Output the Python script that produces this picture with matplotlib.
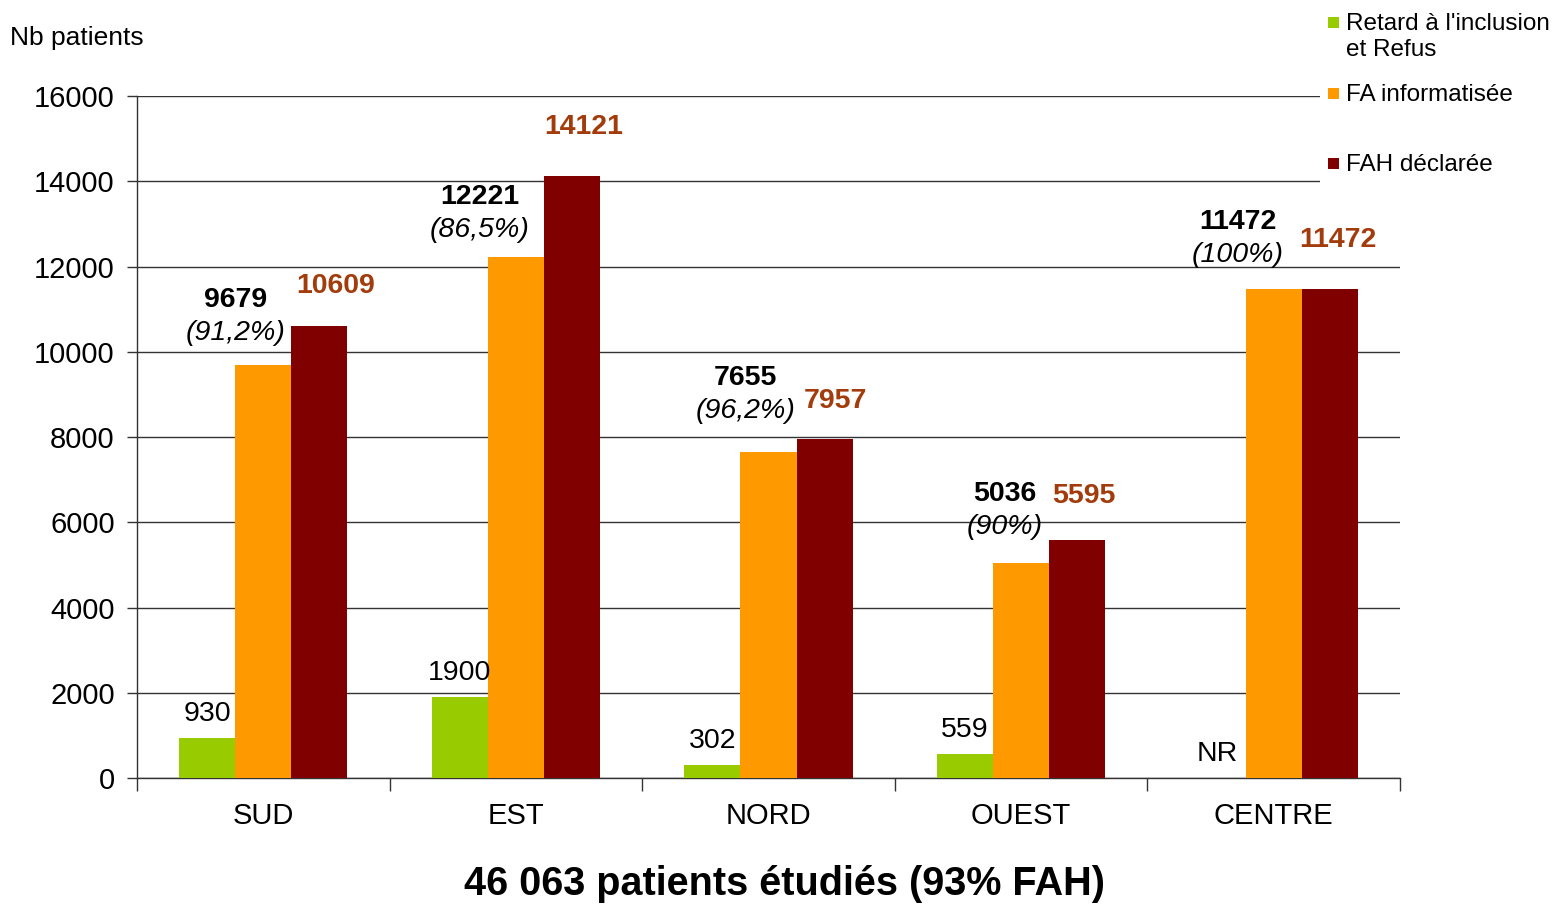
import numpy as np
import matplotlib.pyplot as plt
from matplotlib.patches import Rectangle

plt.rcParams['font.family'] = ['Liberation Sans', 'DejaVu Sans']

regions = ["SUD", "EST", "NORD", "OUEST", "CENTRE"]
retard = [930, 1900, 302, 559, np.nan]
retard_txt = ["930", "1900", "302", "559", "NR"]
fa_info = [9679, 12221, 7655, 5036, 11472]
fa_pct = ["(91,2%)", "(86,5%)", "(96,2%)", "(90%)", "(100%)"]
fah = [10609, 14121, 7957, 5595, 11472]
series_names = ["Retard à l'inclusion\net Refus", "FA informatisée", "FAH déclarée"]

GREEN, ORANGE, DARKRED, BROWN = "#99CC00", "#FF9900", "#800000", "#A33C0C"
GRID = "#333333"

# label offsets in pixels (dx, dy) relative to the top of each bar
fa_dx = [-28, -36, -23, -16, -36]
fa_dy = [65, 60, 74, 69, 67]
fah_dx = [16, 12, 11, 7, 8]
fah_dy = [40, 49, 38, 44, 49]

fig = plt.figure(figsize=(15.55, 9.05), dpi=100)
ax = fig.add_axes([0.0881, 0.1403, 0.8122, 0.7536])

x = np.arange(len(regions))
w = 0.222
ax.bar(x - w, np.nan_to_num(retard), w, color=GREEN, zorder=3)
ax.bar(x, fa_info, w, color=ORANGE, zorder=3)
ax.bar(x + w, fah, w, color=DARKRED, zorder=3)

for i in range(len(regions)):
    gv = 0 if np.isnan(retard[i]) else retard[i]
    ax.annotate(retard_txt[i], (x[i] - w, gv), xytext=(0, 24),
                textcoords='offset pixels', ha='center', va='center',
                fontsize=20.5, color='black', zorder=4)
    ax.annotate(str(fa_info[i]), (x[i], fa_info[i]), xytext=(fa_dx[i], fa_dy[i]),
                textcoords='offset pixels', ha='center', va='center',
                fontsize=20.5, fontweight='bold', color='black', zorder=4)
    ax.annotate(fa_pct[i], (x[i], fa_info[i]), xytext=(fa_dx[i], fa_dy[i] - 33),
                textcoords='offset pixels', ha='center', va='center',
                fontsize=20.5, fontstyle='italic', color='black', zorder=4)
    ax.annotate(str(fah[i]), (x[i] + w, fah[i]), xytext=(fah_dx[i], fah_dy[i]),
                textcoords='offset pixels', ha='center', va='center',
                fontsize=20.5, fontweight='bold', color=BROWN, zorder=4)

ax.set_xlim(-0.5, len(regions) - 0.5)
ax.set_ylim(0, 16000)
ax.set_yticks(np.arange(0, 16001, 2000))
ax.yaxis.grid(True, color=GRID, linewidth=1, zorder=0)
ax.set_axisbelow(True)

ax.set_xticks(x)
ax.set_xticklabels(regions)
ax.set_xticks(np.arange(-0.5, len(regions)), minor=True)
ax.tick_params(axis='x', which='major', length=0, pad=17, labelsize=21)
ax.tick_params(axis='x', which='minor', length=9, width=1, color=GRID)
ax.tick_params(axis='y', length=7, width=1, color=GRID, pad=9, labelsize=21)

for s in ['top', 'right']:
    ax.spines[s].set_visible(False)
for s in ['left', 'bottom']:
    ax.spines[s].set_color(GRID)
    ax.spines[s].set_linewidth(1)

fig.text(10 / 1555, 1 - 38 / 905, "Nb patients", fontsize=19, ha='left', va='center')
fig.text(785 / 1555, 1 - 884 / 905, "46 063 patients étudiés (93% FAH)",
         fontsize=28.5, fontweight='bold', ha='center', va='center')

# legend drawn on a white panel over the right end of the grid
W, H = 1555, 905
fig.add_artist(Rectangle((1320 / W, 1 - 215 / H), 235 / W, 215 / H,
                         transform=fig.transFigure, facecolor='white',
                         edgecolor='none', zorder=5))
leg_y = [22, 93, 163]
for col, name, yy in zip([GREEN, ORANGE, DARKRED], series_names, leg_y):
    fig.add_artist(Rectangle((1328 / W, 1 - (yy + 6) / H), 11 / W, 11 / H,
                             transform=fig.transFigure, facecolor=col,
                             edgecolor='none', zorder=6))
    fig.text(1346 / W, 1 - (yy - 9) / H, name, fontsize=17.5, ha='left', va='top',
             linespacing=1.25, zorder=6)

fig.savefig("out.png", dpi=100)
